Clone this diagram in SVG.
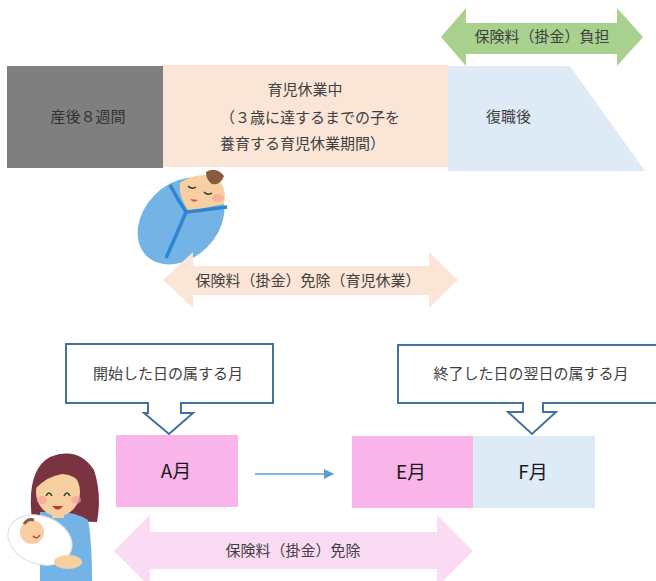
<svg xmlns="http://www.w3.org/2000/svg" width="656" height="581" viewBox="0 0 656 581">
  <style>
    text { font-family: "Noto Sans CJK JP", "Liberation Sans", sans-serif; fill: #404040; }
    .t { font-size: 15px; }
    .big { font-size: 19px; fill: #1a1a1a; }
    .callout { fill: #ffffff; stroke: #41719C; stroke-width: 2; }
  </style>
  <defs>
    <marker id="arr" viewBox="0 0 10 10" refX="9" refY="5" markerWidth="10" markerHeight="10" markerUnits="userSpaceOnUse" orient="auto">
      <path d="M0,0 L10,5 L0,10 Z" fill="#5B9BD5"/>
    </marker>
  </defs>

  <rect width="656" height="581" fill="#ffffff"/>

  <!-- premium burden band (green) -->
  <g id="burden">
    <path d="M441,37 L466,8 L466,23 L617,23 L617,8 L643,37 L617,66 L617,54 L466,54 L466,66 Z" fill="#A9D18E"/>
    <text class="t" x="542" y="42" text-anchor="middle">保険料（掛金）負担</text>
  </g>

  <!-- timeline: postnatal weeks / leave / return -->
  <g id="postnatal">
    <rect x="7" y="66" width="156" height="102" fill="#7F7F7F"/>
    <text class="t" x="88" y="122" text-anchor="middle" style="fill:#333333">産後８週間</text>
  </g>
  <g id="leave">
    <rect x="163" y="65" width="285" height="102" fill="#FBE5D6"/>
    <text class="t" x="305" y="95" text-anchor="middle">育児休業中</text>
    <text class="t" x="220" y="123">（３歳に達するまでの子を</text>
    <text class="t" x="220" y="149">養育する育児休業期間）</text>
  </g>
  <g id="return">
    <path d="M448,66 L570,66 L645,171 L448,171 Z" fill="#DEEBF7"/>
    <text class="t" x="486" y="122">復職後</text>
  </g>

  <!-- swaddled baby -->
  <g id="baby">
    <ellipse cx="181" cy="221" rx="49" ry="37" transform="rotate(-45 181 221)" fill="#74B3E6"/>
    <path d="M170,185 Q178,200 186,212 Q205,210 227,207" fill="none" stroke="#2F86CF" stroke-width="3.5"/>
    <path d="M186,212 Q176,236 166,258" fill="none" stroke="#2F86CF" stroke-width="3.5"/>
    <path d="M180,183 Q196,172 214,176 Q228,186 224,204 Q206,208 188,210 Q178,196 180,183 Z" fill="#F8CFA0"/>
    <path d="M206,172 Q216,166 224,176 Q220,186 212,184 Q206,180 206,172 Z" fill="#8A5A3C"/>
    <ellipse cx="218" cy="198" rx="6" ry="4" fill="#F5A99A" opacity="0.7"/>
    <path d="M188,186 Q192,190 196,187" fill="none" stroke="#333" stroke-width="1.5"/>
    <path d="M204,192 Q208,196 212,193" fill="none" stroke="#333" stroke-width="1.5"/>
    <path d="M190,199 Q194,204 198,200 Z" fill="#D9534F"/>
  </g>

  <!-- exemption band during leave (peach) -->
  <g id="leave-exempt">
    <path d="M163,280 L193,252 L193,266 L429,266 L429,252 L458,280 L429,308 L429,295 L193,295 L193,308 Z" fill="#FBE5D6"/>
    <text class="t" x="308" y="286" text-anchor="middle">保険料（掛金）免除（育児休業）</text>
  </g>

  <!-- callout: start month -->
  <g id="callout-start">
    <path class="callout" d="M66,344 L273,344 L273,403 L181,403 L181,413 L193,413 L169,434 L144,413 L148,413 L148,403 L66,403 Z"/>
    <text class="t" x="168" y="379" text-anchor="middle">開始した日の属する月</text>
  </g>

  <!-- callout: month after end -->
  <g id="callout-end">
    <path class="callout" d="M398,345 L660,345 L660,403 L543,403 L543,412 L556,412 L532,434 L508,412 L523,412 L523,403 L398,403 Z"/>
    <text class="t" x="531" y="379" text-anchor="middle">終了した日の翌日の属する月</text>
  </g>

  <!-- month boxes -->
  <g id="month-a">
    <rect x="116" y="435" width="122" height="72" fill="#F9B4EA"/>
    <text class="big" x="176" y="478" text-anchor="middle">A月</text>
  </g>
  <g id="month-e">
    <rect x="352" y="436" width="121" height="72" fill="#F9B4EA"/>
    <text class="big" x="411" y="479" text-anchor="middle">E月</text>
  </g>
  <g id="month-f">
    <rect x="473" y="436" width="122" height="72" fill="#DEEBF7"/>
    <text class="big" x="533" y="479" text-anchor="middle">F月</text>
  </g>

  <!-- connectors -->
  <g id="connectors">
    <line x1="255" y1="474" x2="333" y2="474" stroke="#5B9BD5" stroke-width="1.5" marker-end="url(#arr)"/>
  </g>

  <!-- exemption band (pink) -->
  <g id="exempt">
    <path d="M114,551 L150,515 L150,532 L437,532 L437,515 L473,551 L437,587 L437,569 L150,569 L150,587 Z" fill="#FBDAF4"/>
    <text class="t" x="293" y="556" text-anchor="middle">保険料（掛金）免除</text>
  </g>

  <!-- mother holding baby -->
  <g id="mother">
    <path d="M32,520 Q26,470 50,457 Q78,446 94,470 Q102,495 97,522 Z" fill="#7A3340"/>
    <path d="M40,512 L40,581 L92,581 Q92,540 88,520 Q75,512 60,512 Z" fill="#74B3E6"/>
    <rect x="52" y="508" width="12" height="10" fill="#F8CFA0"/>
    <ellipse cx="58" cy="492" rx="22" ry="24" fill="#F8CFA0"/>
    <path d="M36,488 Q40,462 62,462 Q80,466 84,486 Q74,474 62,474 Q48,476 36,488 Z" fill="#7A3340"/>
    <ellipse cx="42" cy="500" rx="5" ry="4" fill="#F5A0A0" opacity="0.7"/>
    <ellipse cx="76" cy="500" rx="5" ry="4" fill="#F5A0A0" opacity="0.7"/>
    <path d="M46,496 Q49,490 52,496" fill="none" stroke="#2d4d3d" stroke-width="1.6"/>
    <path d="M64,496 Q67,490 70,496" fill="none" stroke="#2d4d3d" stroke-width="1.6"/>
    <path d="M52,506 Q58,513 63,506 Z" fill="#C0392B"/>
    <ellipse cx="40" cy="540" rx="33" ry="24" transform="rotate(20 40 540)" fill="#ffffff" stroke="#dddddd" stroke-width="1"/>
    <circle cx="32" cy="532" r="12" fill="#F8CFA0"/>
    <path d="M24,524 Q28,518 34,520" fill="none" stroke="#8A5A3C" stroke-width="3"/>
    <path d="M33,536 Q37,540 40,535" fill="none" stroke="#C0392B" stroke-width="1.4"/>
    <ellipse cx="68" cy="562" rx="14" ry="7" fill="#F8CFA0"/>
  </g>
</svg>
